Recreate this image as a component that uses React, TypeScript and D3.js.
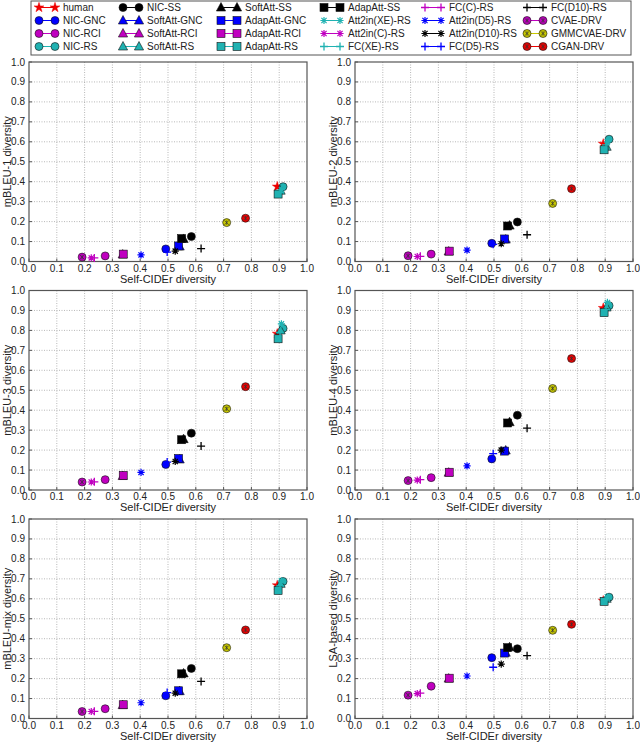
import React from 'react';
import * as d3 from 'd3';

// legend order (column-wise), which is also the drawing order
const methods = [
  'human', 'NIC-GNC', 'NIC-RCI', 'NIC-RS',
  'NIC-SS', 'SoftAtt-GNC', 'SoftAtt-RCI', 'SoftAtt-RS',
  'SoftAtt-SS', 'AdapAtt-GNC', 'AdapAtt-RCI', 'AdapAtt-RS',
  'AdapAtt-SS', 'Att2in(XE)-RS', 'Att2in(C)-RS', 'FC(XE)-RS',
  'FC(C)-RS', 'Att2in(D5)-RS', 'Att2in(D10)-RS', 'FC(D5)-RS',
  'FC(D10)-RS', 'CVAE-DRV', 'GMMCVAE-DRV', 'CGAN-DRV',
];

const selfCider = [
  0.893, 0.492, 0.274, 0.914,
  0.584, 0.542, 0.337, 0.905,
  0.556, 0.538, 0.339, 0.896,
  0.549, 0.908, 0.224, 0.903,
  0.235, 0.403, 0.526, 0.497,
  0.619, 0.191, 0.711, 0.779,
];

const mBleu1 = [
  0.375, 0.063, 0.028, 0.375,
  0.125, 0.075, 0.035, 0.355,
  0.113, 0.078, 0.037, 0.338,
  0.115, 0.36, 0.018, 0.345,
  0.018, 0.033, 0.052, 0.047,
  0.065, 0.022, 0.195, 0.217,
];

const mBleu2 = [
  0.59, 0.091, 0.037, 0.613,
  0.198, 0.11, 0.05, 0.575,
  0.18, 0.113, 0.052, 0.56,
  0.178, 0.6, 0.025, 0.585,
  0.026, 0.057, 0.089, 0.086,
  0.134, 0.029, 0.291, 0.365,
];

const mBleu3 = [
  0.783, 0.128, 0.052, 0.81,
  0.285, 0.153, 0.07, 0.8,
  0.255, 0.158, 0.073, 0.758,
  0.252, 0.833, 0.04, 0.79,
  0.041, 0.088, 0.143, 0.14,
  0.22, 0.04, 0.407, 0.518,
];

const mBleu4 = [
  0.912, 0.156, 0.062, 0.924,
  0.375, 0.198, 0.087, 0.915,
  0.34, 0.195, 0.089, 0.889,
  0.336, 0.94, 0.05, 0.905,
  0.052, 0.121, 0.2, 0.182,
  0.31, 0.047, 0.509, 0.659,
];

const mBleuMix = [
  0.667, 0.114, 0.049, 0.687,
  0.251, 0.137, 0.067, 0.675,
  0.226, 0.139, 0.069, 0.642,
  0.224, 0.69, 0.035, 0.665,
  0.036, 0.079, 0.127, 0.13,
  0.186, 0.035, 0.355, 0.444,
];

const lsa = [
  0.59, 0.305, 0.162, 0.608,
  0.35, 0.33, 0.2, 0.6,
  0.357, 0.328, 0.202, 0.587,
  0.355, 0.61, 0.125, 0.595,
  0.127, 0.213, 0.273, 0.257,
  0.315, 0.117, 0.442, 0.472,
];

const panelTitles = [
  'mBLEU-1 diversity', 'mBLEU-2 diversity',
  'mBLEU-3 diversity', 'mBLEU-4 diversity',
  'mBLEU-mix diversity', 'LSA-based diversity',
];
const panelValues = [mBleu1, mBleu2, mBleu3, mBleu4, mBleuMix, lsa];
const tickValues = d3.range(0, 11).map((i) => i / 10);

// styles
const C = {
  k: '#000000', b: '#0000ff', m: '#c000c0', c: '#20b2b2',
  r: '#ee0000', y: '#c8c800',
};
const colors = [
  C.r, C.b, C.m, C.c,
  C.k, C.b, C.m, C.c,
  C.k, C.b, C.m, C.c,
  C.k, C.c, C.m, C.c,
  C.m, C.b, C.k, C.b,
  C.k, C.m, C.y, C.r,
];
const shapes = [
  'star', 'circle', 'circle', 'circle',
  'circle', 'tri', 'tri', 'tri',
  'tri', 'square', 'square', 'square',
  'square', 'ast', 'ast', 'plus',
  'plus', 'ast', 'ast', 'plus',
  'plus', 'pat', 'pat', 'pat',
];

const FONT = '"Liberation Sans", Arial, Helvetica, sans-serif';
const cols = [29, 355];
const rows = [62, 290.5, 519];
const PW = 278;
const PH = 199.5;

function Marker({ shape, color, x, y }: { shape: string; color: string; x: number; y: number }) {
  const edge = '#111';
  if (shape === 'circle') {
    return <circle cx={x} cy={y} r={4} fill={color} stroke={edge} strokeWidth={0.6} />;
  }
  if (shape === 'pat') {
    const s = 2.2;
    return (
      <g>
        <circle cx={x} cy={y} r={4} fill={color} stroke={edge} strokeWidth={0.6} />
        <path
          d={`M${x - s},${y - s}L${x + s},${y + s}M${x - s},${y + s}L${x + s},${y - s}M${x},${y - s}L${x},${y + s}`}
          stroke="#333" strokeWidth={0.7} />
      </g>
    );
  }
  if (shape === 'square') {
    return <rect x={x - 4} y={y - 4} width={8} height={8} fill={color} stroke={edge} strokeWidth={0.6} />;
  }
  if (shape === 'tri') {
    return <path d={`M${x},${y - 5}L${x + 4.6},${y + 3.5}L${x - 4.6},${y + 3.5}Z`} fill={color} stroke={edge} strokeWidth={0.6} />;
  }
  if (shape === 'star') {
    const p = d3.symbol(d3.symbolStar, 30)();
    return <path d={p || ''} transform={`translate(${x},${y})`} fill={color} stroke={color} strokeWidth={0.5} />;
  }
  if (shape === 'ast') {
    const s = 3.6;
    const d = 2.6;
    return (
      <path
        d={`M${x - s},${y}L${x + s},${y}M${x},${y - s}L${x},${y + s}M${x - d},${y - d}L${x + d},${y + d}M${x - d},${y + d}L${x + d},${y - d}`}
        stroke={color} strokeWidth={1.2} />
    );
  }
  // plus
  const s = 4;
  return <path d={`M${x - s},${y}L${x + s},${y}M${x},${y - s}L${x},${y + s}`} stroke={color} strokeWidth={1.3} />;
}

function Panel({ idx }: { idx: number }) {
  const x0 = cols[idx % 2];
  const y0 = rows[Math.floor(idx / 2)];
  const x = d3.scaleLinear().domain([0, 1]).range([x0, x0 + PW]);
  const y = d3.scaleLinear().domain([0, 1]).range([y0 + PH, y0]);
  const vals = panelValues[idx];
  const fmt = d3.format('.1f');
  return (
    <g>
      <rect x={x0} y={y0} width={PW} height={PH} fill="#fff" />
      {tickValues.slice(1, -1).map((t) => (
        <g key={t}>
          <line x1={x(t)} x2={x(t)} y1={y0} y2={y0 + PH} stroke="#999" strokeWidth={0.7} strokeDasharray="1,1.5" />
          <line x1={x0} x2={x0 + PW} y1={y(t)} y2={y(t)} stroke="#999" strokeWidth={0.7} strokeDasharray="1,1.5" />
        </g>
      ))}
      {tickValues.map((t) => (
        <g key={'t' + t}>
          <line x1={x(t)} x2={x(t)} y1={y0 + PH} y2={y0 + PH - 3} stroke="#555" />
          <line x1={x0} x2={x0 + 3} y1={y(t)} y2={y(t)} stroke="#555" />
          <text x={x(t)} y={y0 + PH + 10} fontSize={10} textAnchor="middle" fill="#222">{fmt(t)}</text>
          <text x={x0 - 4} y={y(t) + 3.5} fontSize={10} textAnchor="end" fill="#222">{fmt(t)}</text>
        </g>
      ))}
      <rect x={x0} y={y0} width={PW} height={PH} fill="none" stroke="#555" strokeWidth={1.2} />
      {methods.map((m, i) => (
        <Marker key={m} shape={shapes[i]} color={colors[i]} x={x(selfCider[i])} y={y(vals[i])} />
      ))}
      <text x={x0 + PW / 2} y={y0 + PH + 21} fontSize={11} textAnchor="middle" fill="#222">Self-CIDEr diversity</text>
      <text transform={`translate(${x0 - 18},${y0 + PH / 2}) rotate(-90)`} fontSize={11} textAnchor="middle" fill="#222">
        {panelTitles[idx]}
      </text>
    </g>
  );
}

function Legend() {
  const textX = [63, 147, 245, 348, 449, 551];
  const rowY = [7.5, 20.5, 33.5, 46.5];
  return (
    <g>
      <rect x={31} y={1} width={600} height={54} fill="#fff" stroke="#555" strokeWidth={1} />
      {methods.map((m, i) => {
        const c = Math.floor(i / 4);
        const r = i % 4;
        const tx = textX[c];
        const yy = rowY[r];
        const a = tx - 24;
        const b = tx - 8;
        return (
          <g key={m}>
            <line x1={a} x2={b} y1={yy} y2={yy} stroke={colors[i]} strokeWidth={1} />
            <Marker shape={shapes[i]} color={colors[i]} x={a} y={yy} />
            <Marker shape={shapes[i]} color={colors[i]} x={b} y={yy} />
            <text x={tx} y={yy + 3.5} fontSize={10} fill="#222">{m}</text>
          </g>
        );
      })}
    </g>
  );
}

export default function App() {
  return (
    <svg width={640} height={743} style={{ position: 'absolute', left: 0, top: 0, fontFamily: FONT, background: '#fff' }}>
      <rect width={640} height={743} fill="#fff" />
      <Legend />
      {[0, 1, 2, 3, 4, 5].map((i) => <Panel key={i} idx={i} />)}
    </svg>
  );
}
